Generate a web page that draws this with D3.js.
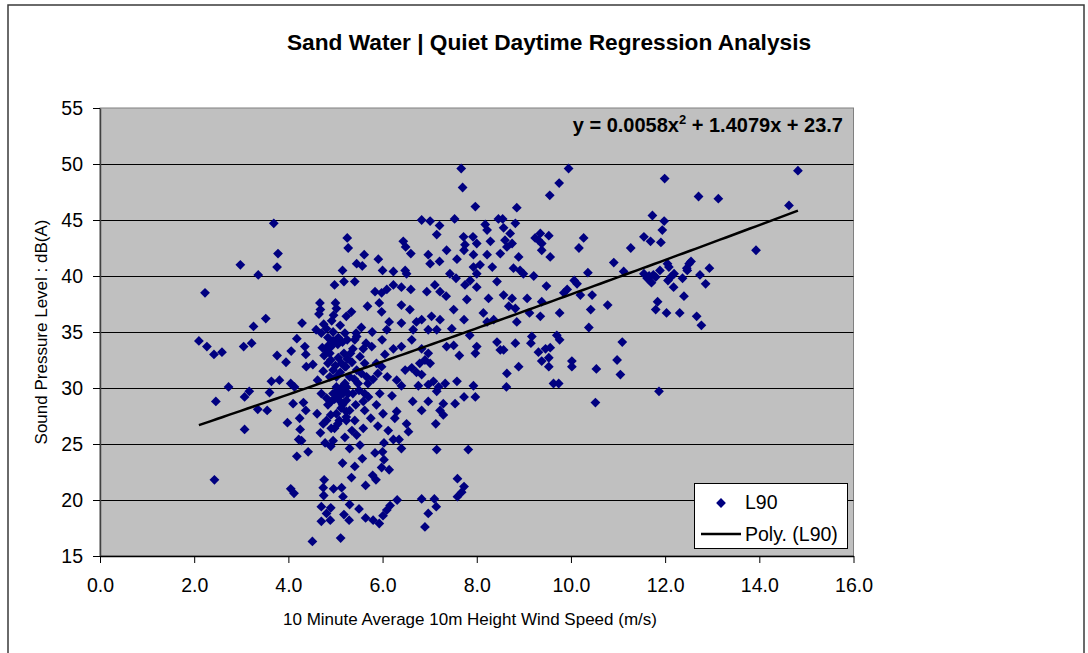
<html>
<head>
<script src="https://cdnjs.cloudflare.com/ajax/libs/d3/7.8.5/d3.min.js"></script>
<style>
    body { margin: 0; background: #fff; }
    text { font-family: "Liberation Sans", Arial, sans-serif; }
</style>
</head>
<body>
<svg id="chart"></svg>

<script>

    // 10 minute average wind speed (m/s)
    var speed = [
        3.69, 3.78, 3.76, 2.98, 3.36, 2.23, 3.52, 3.26, 2.10, 2.27, 2.42, 2.59, 3.05, 3.22, 2.73, 2.46,
        3.07, 3.17, 3.35, 3.55, 3.07, 2.43, 3.76, 3.95, 3.64, 3.81, 3.60, 4.06, 4.18, 4.29, 4.35, 4.37,
        4.38, 4.52, 4.05, 4.13, 4.10, 4.32, 4.37, 3.98, 4.24, 4.25, 4.22, 4.28, 4.42, 4.18, 4.05, 4.12,
        4.51, 4.62, 4.70, 4.61, 4.74, 4.68, 4.78, 4.90, 4.91, 4.81, 5.15, 4.76, 4.74, 4.75, 4.96, 5.13,
        5.16, 4.70, 4.90, 4.81, 4.70, 4.89, 5.18, 5.11, 4.67, 4.68, 4.65, 5.00, 5.02, 4.96, 5.15, 4.98,
        5.18, 5.25, 5.27, 5.23, 4.75, 4.59, 4.81, 4.95, 4.84, 5.06, 5.15, 4.81, 4.76, 4.88, 5.06, 5.13,
        5.22, 5.02, 5.20, 4.95, 5.08, 5.15, 5.23, 5.02, 4.84, 5.23, 4.91, 4.84, 4.95, 4.74, 5.12, 5.02,
        4.81, 4.91, 5.16, 5.23, 5.08, 4.98,
        4.85, 4.95, 5.05, 4.90, 5.00, 5.10, 4.88, 5.05, 4.98, 5.12, 4.90, 5.05, 4.72, 4.70, 5.10, 4.92,
        5.08, 5.20, 5.25, 5.35, 5.40, 5.55, 5.50, 5.70, 5.80, 5.90, 6.10, 6.20, 6.30, 5.75, 5.90, 5.35,
        5.20, 4.95, 5.45, 5.65, 5.55,
        7.67, 7.70, 7.97, 6.83, 7.01, 7.53, 7.21, 7.15, 6.44, 6.49, 6.60, 5.61, 5.45, 5.57, 5.91, 6.00,
        6.23, 6.48, 6.51, 6.97, 7.01, 7.21, 7.36, 7.58, 7.72, 7.75, 7.73, 7.92, 8.00, 7.93, 8.18, 8.22,
        8.46, 8.29, 8.50, 8.22, 8.07, 7.93, 8.33, 8.00, 5.41, 7.43, 7.56, 7.75, 7.86, 7.79, 8.00, 8.43,
        8.25, 6.94, 7.11, 7.22, 7.35, 5.84, 5.98, 6.09, 6.23, 6.40, 6.60, 5.93, 5.98, 5.68, 5.34, 6.40,
        6.58, 7.51, 8.14, 8.22, 8.36, 6.14, 6.09, 5.78, 5.99, 6.40, 6.72, 6.83, 7.04, 7.22, 7.15, 6.97,
        6.65, 6.62, 7.47, 7.73, 7.85, 8.43, 8.50, 8.00, 7.97, 7.36, 7.51, 7.63, 6.40, 6.23, 6.05, 5.87,
        5.77, 5.59, 5.52, 5.37, 5.41, 5.32, 5.62, 5.45, 5.66, 5.69, 5.98, 6.83, 6.97, 6.90, 6.79, 7.01,
        6.48, 6.62, 6.72, 6.83, 6.40, 6.76, 6.97, 7.08, 7.19, 7.15, 7.33, 7.58, 7.93, 7.97, 7.73, 7.54,
        7.29, 7.22, 7.29, 7.13, 6.97, 6.83, 6.64, 5.94, 5.87, 5.62, 5.59, 5.43, 5.27, 5.30, 5.62, 6.01,
        6.30, 6.26, 6.51, 6.55, 6.12, 5.45, 5.59, 5.52, 5.30, 6.03, 6.23, 6.35, 6.40, 5.84, 6.00, 6.03,
        5.57, 5.41, 5.34, 5.64, 5.79, 5.86, 5.98, 6.14, 7.15, 7.82, 7.59, 7.73, 7.68, 7.59, 5.30, 5.29,
        5.50, 5.64, 5.80, 5.93, 6.01, 6.09, 6.16, 6.31, 6.83, 7.10, 7.14, 6.97, 6.90, 5.20, 5.25, 5.44,
        5.18, 5.20, 5.30, 5.48, 5.23, 5.37, 5.23, 5.41,
        9.95, 9.75, 9.55, 8.85, 8.82, 8.55, 8.57, 8.71, 8.60, 8.75, 8.64, 9.24, 9.35, 9.53, 9.38, 9.31,
        9.38, 9.56, 8.89, 8.78, 8.92, 8.99, 9.21, 9.48, 8.57, 8.75, 8.68, 8.82, 9.07, 9.12, 9.35, 9.38,
        8.85, 9.76, 9.85, 9.92, 10.07, 10.13, 10.20, 10.17, 10.27, 10.36, 10.45, 10.42, 10.38, 10.78, 10.91, 11.12,
        11.27, 11.55, 11.69, 11.91, 11.73, 11.98, 11.94, 11.99, 11.55, 11.62, 11.71, 11.80, 11.89, 11.84, 11.80, 12.03,
        11.87, 8.82, 8.57, 9.17, 9.15, 9.31, 9.46, 9.56, 9.38, 9.53, 9.53, 9.70, 9.76, 8.89, 8.64, 8.63,
        9.63, 9.74, 10.02, 10.02, 10.54, 10.52, 11.09, 10.98, 11.05, 11.66, 11.75,
        12.71, 13.13, 13.93, 14.63, 14.82, 12.05, 12.08, 12.12, 12.06, 12.19, 12.18, 12.37, 12.40, 12.46, 12.51, 12.55,
        12.47, 12.74, 12.94, 12.86, 12.31, 12.67, 12.77
    ];

    // L90 sound pressure level dB(A), same order as speed
    var l90 = [
        44.7, 42.0, 40.8, 41.0, 40.1, 38.5, 36.2, 35.5, 34.2, 33.7, 33.0, 33.2, 33.7, 34.0, 30.1, 28.8,
        29.2, 29.7, 28.1, 28.0, 26.3, 21.8, 32.9, 32.3, 30.6, 30.7, 29.6, 33.3, 34.4, 35.8, 33.7, 33.0,
        31.9, 32.1, 30.4, 30.1, 28.6, 28.7, 28.0, 26.9, 27.3, 26.3, 25.4, 25.3, 24.3, 23.9, 21.0, 20.6,
        16.3, 30.7, 29.5, 27.7, 26.8, 26.0, 25.1, 24.8, 26.4, 27.1, 23.3, 21.8, 21.1, 20.4, 21.0, 21.1,
        20.3, 19.4, 19.3, 18.8, 18.1, 18.2, 18.7, 16.6, 37.6, 37.0, 36.6, 37.6, 37.1, 36.5, 40.5, 39.2,
        39.5, 43.4, 42.5, 36.4, 35.7, 35.2, 35.3, 35.0, 34.5, 34.5, 34.1, 33.4, 32.9, 33.1, 32.7, 32.2,
        31.9, 31.0, 30.4, 29.5, 28.9, 28.5, 27.9, 27.7, 28.5, 27.1, 33.7, 32.2, 31.6, 31.5, 30.0, 30.1,
        29.1, 28.8, 29.5, 28.9, 27.1, 26.4,
        33.8, 34.2, 33.9, 32.5, 32.0, 31.4, 31.0, 29.8, 29.0, 28.2, 27.6, 26.8, 33.6, 34.9, 35.6, 36.0,
        29.3, 29.9, 32.6, 32.3, 30.8, 31.3, 29.8, 29.2, 30.8, 31.3, 31.0, 29.3, 30.7, 27.3, 26.6, 26.2,
        25.6, 25.3, 34.6, 34.0, 35.4,
        49.6, 47.9, 46.2, 45.0, 44.9, 45.1, 44.5, 43.7, 43.1, 42.6, 42.0, 41.9, 41.1, 40.9, 41.5, 40.5,
        40.4, 40.5, 40.2, 41.9, 41.1, 41.3, 42.3, 41.5, 43.5, 42.8, 42.3, 43.5, 42.9, 41.9, 44.6, 44.1,
        45.1, 43.1, 42.0, 41.9, 41.0, 40.8, 40.8, 40.2, 39.5, 40.2, 39.8, 39.2, 39.6, 37.9, 39.0, 39.5,
        38.0, 38.6, 39.2, 38.6, 38.2, 38.6, 38.5, 38.8, 39.2, 39.0, 38.8, 37.6, 36.8, 37.3, 36.8, 37.4,
        37.0, 37.0, 36.7, 35.9, 36.1, 35.9, 35.2, 35.0, 34.3, 35.8, 35.9, 36.1, 36.4, 36.1, 35.2, 35.2,
        35.2, 34.3, 35.3, 36.1, 34.7, 34.1, 33.4, 33.7, 33.1, 33.7, 33.8, 32.9, 33.7, 33.5, 33.0, 32.2,
        33.7, 33.5, 32.8, 33.5, 34.3, 33.1, 32.2, 31.6, 31.0, 30.4, 31.9, 33.5, 33.1, 32.5, 32.2, 32.2,
        31.6, 31.8, 31.4, 31.2, 30.2, 30.2, 30.3, 30.6, 30.1, 29.7, 30.4, 30.6, 30.2, 29.2, 29.2, 28.6,
        28.6, 28.0, 27.6, 26.8, 28.8, 28.0, 28.8, 29.5, 28.5, 29.5, 28.8, 28.5, 29.5, 28.0, 28.0, 27.7,
        27.9, 27.3, 26.8, 26.1, 26.2, 25.8, 26.4, 24.9, 24.6, 25.1, 25.4, 25.4, 24.6, 24.2, 24.3, 23.6,
        23.7, 23.0, 22.0, 21.3, 22.2, 21.8, 22.9, 22.7, 24.5, 24.5, 21.9, 21.2, 20.7, 20.3, 19.6, 18.2,
        19.2, 18.4, 18.2, 17.9, 18.6, 19.1, 19.5, 20.0, 20.1, 20.1, 19.4, 18.8, 17.6, 34.9, 34.3, 34.9,
        33.1, 31.9, 31.0, 30.4, 30.1, 29.5, 27.4, 27.1,
        49.6, 48.3, 47.2, 46.1, 44.7, 45.1, 44.3, 43.8, 43.2, 42.9, 42.6, 43.4, 43.8, 43.6, 42.9, 43.2,
        42.3, 41.7, 41.7, 40.7, 40.5, 40.2, 40.0, 39.1, 38.3, 38.0, 37.3, 37.1, 38.0, 36.7, 36.4, 37.7,
        35.9, 36.7, 38.5, 38.8, 39.6, 39.3, 38.3, 42.5, 43.4, 40.3, 38.3, 37.0, 35.4, 37.4, 41.2, 40.4,
        42.5, 43.5, 43.1, 43.0, 45.4, 44.9, 44.1, 48.7, 40.2, 39.8, 39.4, 39.9, 40.5, 37.7, 37.0, 36.7,
        29.7, 34.0, 33.4, 34.6, 34.0, 33.2, 33.5, 33.6, 32.4, 32.7, 31.9, 34.7, 34.3, 31.9, 31.3, 30.1,
        30.4, 30.4, 32.4, 31.9, 31.7, 28.7, 34.1, 32.5, 31.2, 40.0, 40.1,
        47.1, 46.9, 42.3, 46.3, 49.4, 41.1, 40.8, 39.9, 39.6, 40.2, 39.0, 39.8, 38.2, 40.7, 41.1, 41.3,
        40.5, 40.1, 40.7, 39.3, 36.7, 36.4, 35.6
    ];

    var xTicks = [0, 2, 4, 6, 8, 10, 12, 14, 16];
    var yTicks = [15, 20, 25, 30, 35, 40, 45, 50, 55];

    // Excel polynomial trendline (order 2): a*x^2 + b*x + c
    var trendCoef = [0.0058, 1.4079, 23.7];

    var width = 1088,
        height = 653;

    var plot = {left: 100, top: 108, right: 853.5, bottom: 556};

    var svg = d3.select("#chart")
        .attr("width", width)
        .attr("height", height);

    var x = d3.scaleLinear()
        .domain([0, 16])
        .range([plot.left, plot.right]);

    var y = d3.scaleLinear()
        .domain([15, 55])
        .range([plot.bottom, plot.top]);

    var points = speed.map(function(s, i) { return {x: s, y: l90[i]}; });

    // outer chart frame
    svg.append("rect")
        .attr("x", 8)
        .attr("y", 5)
        .attr("width", 1076)
        .attr("height", 700)
        .attr("fill", "#fff")
        .attr("stroke", "#3a3a3a")
        .attr("stroke-width", 1.5);

    svg.append("text")
        .attr("x", 549)
        .attr("y", 49.5)
        .attr("text-anchor", "middle")
        .style("font-size", "22.7px")
        .style("font-weight", "bold")
        .text("Sand Water | Quiet Daytime Regression Analysis");

    // plot area
    svg.append("rect")
        .attr("x", plot.left)
        .attr("y", plot.top)
        .attr("width", plot.right - plot.left)
        .attr("height", plot.bottom - plot.top)
        .attr("fill", "#c0c0c0")
        .attr("stroke", "#808080")
        .attr("stroke-width", 1);

    svg.append("g")
        .attr("class", "grid")
        .selectAll("line")
        .data(yTicks.filter(function(d) { return d > 15 && d < 55; }))
        .enter().append("line")
        .attr("x1", plot.left)
        .attr("x2", plot.right)
        .attr("y1", function(d) { return Math.round(y(d)) + 0.5; })
        .attr("y2", function(d) { return Math.round(y(d)) + 0.5; })
        .attr("stroke", "#000")
        .attr("stroke-width", 1);

    var yAxis = svg.append("g")
        .attr("transform", "translate(" + plot.left + ",0)")
        .call(d3.axisLeft(y).tickValues(yTicks).tickSize(7).tickPadding(10).tickSizeOuter(0));

    var xAxis = svg.append("g")
        .attr("transform", "translate(0," + plot.bottom + ")")
        .call(d3.axisBottom(x).tickValues(xTicks).tickFormat(d3.format(".1f")).tickSize(7).tickPadding(15).tickSizeOuter(0));

    [yAxis, xAxis].forEach(function(g) {
        g.attr("font-family", null).attr("font-size", null);
        g.selectAll("text").style("font-size", "19.5px").attr("fill", "#000");
        g.selectAll("line").attr("stroke", "#000");
    });
    yAxis.select(".domain").attr("stroke", "#404040").attr("stroke-width", 1.5);
    xAxis.select(".domain").attr("stroke", "#000").attr("stroke-width", 1.5);

    svg.append("text")
        .attr("transform", "translate(47," + ((plot.top + plot.bottom) / 2) + ") rotate(-90)")
        .attr("text-anchor", "middle")
        .style("font-size", "17px")
        .text("Sound Pressure Level : dB(A)");

    svg.append("text")
        .attr("x", 470)
        .attr("y", 625)
        .attr("text-anchor", "middle")
        .style("font-size", "17px")
        .text("10 Minute Average 10m Height Wind Speed (m/s)");

    var diamond = function(r) { return "M0," + (-r) + "L" + r + ",0L0," + r + "L" + (-r) + ",0Z"; };

    svg.append("g")
        .attr("class", "points")
        .selectAll("path")
        .data(points)
        .enter().append("path")
        .attr("transform", function(d) { return "translate(" + x(d.x) + "," + y(d.y) + ")"; })
        .attr("d", diamond(4.9))
        .attr("fill", "#000080");

    // trendline over the data range
    var xr = d3.extent(speed);
    var trend = d3.range(xr[0], xr[1] + 0.001, (xr[1] - xr[0]) / 100).map(function(v) {
        return {x: v, y: trendCoef[0] * v * v + trendCoef[1] * v + trendCoef[2]};
    });

    svg.append("path")
        .datum(trend)
        .attr("fill", "none")
        .attr("stroke", "#000")
        .attr("stroke-width", 2.5)
        .attr("d", d3.line().x(function(d) { return x(d.x); }).y(function(d) { return y(d.y); }));

    var eq = svg.append("text")
        .attr("x", 843)
        .attr("y", 132)
        .attr("text-anchor", "end")
        .style("font-size", "20px")
        .style("font-weight", "bold");
    eq.append("tspan").text("y = " + trendCoef[0] + "x");
    eq.append("tspan").attr("dy", -8).style("font-size", "13px").text("2");
    eq.append("tspan").attr("dy", 8).text(" + " + trendCoef[1] + "x + " + trendCoef[2]);

    // legend
    var legend = svg.append("g");
    legend.append("rect")
        .attr("x", 694.5)
        .attr("y", 483.5)
        .attr("width", 153)
        .attr("height", 65)
        .attr("fill", "#fff")
        .attr("stroke", "#000");
    legend.append("path")
        .attr("transform", "translate(721,503)")
        .attr("d", diamond(4.9))
        .attr("fill", "#000080");
    legend.append("text")
        .attr("x", 745)
        .attr("y", 509)
        .style("font-size", "19.5px")
        .text("L90");
    legend.append("line")
        .attr("x1", 701)
        .attr("x2", 741)
        .attr("y1", 534)
        .attr("y2", 534)
        .attr("stroke", "#000")
        .attr("stroke-width", 2.5);
    legend.append("text")
        .attr("x", 745)
        .attr("y", 541)
        .style("font-size", "19.5px")
        .text("Poly. (L90)");

</script>
</body>
</html>
